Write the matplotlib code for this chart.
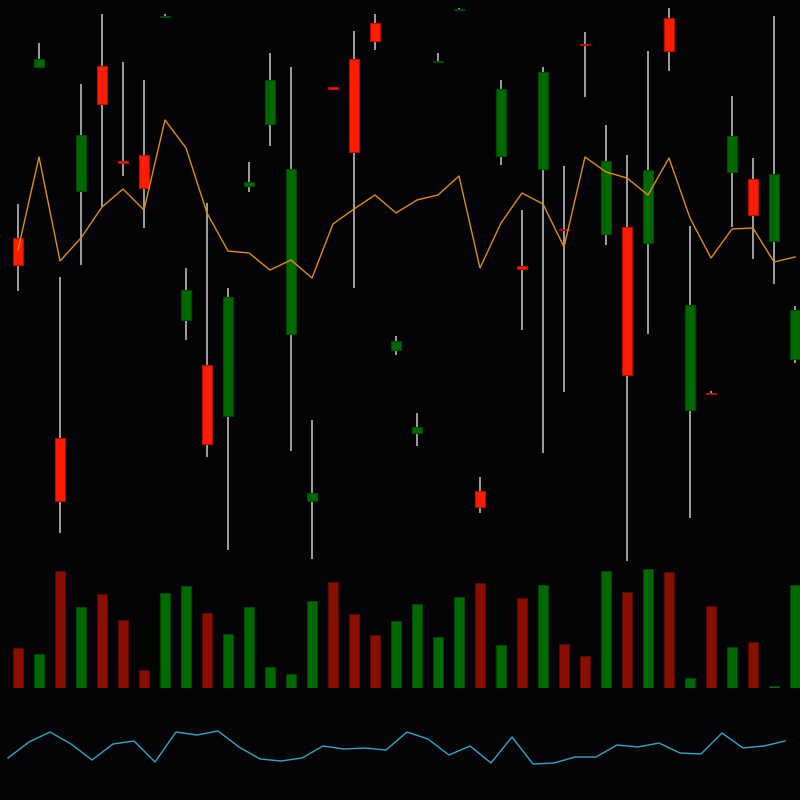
import matplotlib
matplotlib.use("Agg")
import matplotlib.pyplot as plt
import numpy as np

# ---- data ----
opens  = [36.2, 53.3, 16.2, 40.9, 53.4, 43.9, 44.5, 58.3, 28.0, 23.5,
          18.4, 41.4, 47.6, 26.6, 9.9, 51.3, 54.1, 57.7, 25.0, 16.7,
          53.8, 59.05, 10.9, 44.4, 33.4, 43.1, 37.15, 55.6, 36.6, 37.3,
          35.7, 58.2, 19.0, 20.7, 42.8, 42.1, 35.9, 24.1]
highs  = [39.6, 55.7, 32.3, 51.6, 58.6, 53.8, 52.0, 58.6, 33.2, 39.7,
          31.2, 43.8, 54.7, 53.3, 18.0, 51.3, 56.9, 58.6, 26.4, 18.7,
          54.7, 59.2, 12.3, 52.0, 39.0, 53.3, 43.4, 56.8, 47.5, 44.5,
          54.9, 59.2, 37.4, 20.9, 50.4, 44.2, 58.4, 29.4]
lows   = [30.9, 53.2, 6.7, 33.5, 39.3, 42.4, 37.2, 58.2, 26.0, 14.3,
          5.0, 40.8, 45.4, 14.9, 4.1, 51.1, 31.2, 55.0, 24.5, 15.4,
          53.7, 59.0, 8.7, 43.5, 27.0, 14.7, 20.8, 50.3, 35.5, 3.9,
          26.6, 52.9, 8.2, 20.5, 37.3, 34.1, 31.6, 23.7]
closes = [33.5, 54.1, 9.9, 46.5, 49.6, 43.7, 41.2, 58.4, 31.0, 15.6,
          30.3, 41.8, 52.0, 43.1, 10.7, 51.1, 44.8, 55.9, 25.9, 17.3,
          53.9, 59.1, 9.3, 51.1, 33.1, 52.8, 37.05, 55.55, 43.9, 22.5,
          43.0, 54.9, 29.5, 20.65, 46.4, 38.5, 42.6, 29.0]
ma_line = [35.0, 44.3, 33.9, 36.2, 39.3, 41.1, 39.0, 48.0, 45.2, 38.7,
           34.9, 34.7, 33.0, 34.0, 32.2, 37.6, 39.1, 40.5, 38.7, 40.0,
           40.5, 42.4, 33.2, 37.7, 40.7, 39.6, 35.3, 44.3, 42.8, 42.2,
           40.5, 44.2, 38.2, 34.2, 37.1, 37.2, 33.8, 34.3]
volumes = [40, 34, 117, 81, 94, 68, 18, 95, 102, 75,
           54, 81, 21, 14, 87, 106, 74, 53, 67, 84,
           51, 91, 105, 43, 90, 103, 44, 32, 117, 96,
           119, 116, 10, 82, 41, 46, 2, 103]
indicator = [42, 58, 68, 56, 40, 56, 59, 38, 68, 65,
             69, 53, 41, 39, 42, 54, 51, 52, 50, 68,
             61, 45, 54, 37, 63, 36, 37, 43, 43, 55,
             53, 57, 47, 46, 67, 52, 54, 59]

n = len(opens)
idx = np.arange(n)
BG = '#040406'
UP, DOWN = '#006a00', '#ff1c00'
UP_EDGE, DOWN_EDGE = '#004a00', '#b01000'
VUP, VDOWN = '#006a00', '#8a0f00'

fig = plt.figure(figsize=(8, 8), dpi=100, facecolor=BG)

# price axes
axp = fig.add_axes([0, 0.2875, 1, 0.7125])
axp.set_facecolor('none')
axp.set_xlim(-18/21, 782/21)
axp.set_ylim(3.0, 60.0)
up = [c >= o for o, c in zip(opens, closes)]
axp.vlines(idx, lows, highs, color='#c8c8c8', lw=1.1, zorder=1)
bottoms = [min(o, c) for o, c in zip(opens, closes)]
heights = [abs(c - o) for o, c in zip(opens, closes)]
axp.bar(idx, heights, bottom=bottoms, width=0.5,
        color=[UP if u else DOWN for u in up],
        edgecolor=[UP_EDGE if u else DOWN_EDGE for u in up],
        linewidth=0.8, zorder=2)
axp.plot(idx, ma_line, color='#e08c1c', lw=1.0, zorder=3)
axp.axis('off')

# volume axes
axv = fig.add_axes([0, 0.14, 1, 0.15625])
axv.set_facecolor('none')
axv.set_xlim(-18/21, 782/21)
axv.set_ylim(0, 125)
axv.bar(idx, volumes, width=0.5,
        color=[VUP if u else VDOWN for u in up],
        edgecolor=[UP_EDGE if u else '#5a0a00' for u in up], linewidth=0.6)
axv.axis('off')

# indicator axes
axi = fig.add_axes([0, 0, 1, 0.14])
axi.set_facecolor('none')
axi.set_xlim(-8/21, 792/21)
axi.set_ylim(0, 112)
axi.plot(idx, indicator, color='#2ea8cc', lw=1.0)
axi.axis('off')

fig.savefig('out.png', dpi=100, facecolor=BG)
